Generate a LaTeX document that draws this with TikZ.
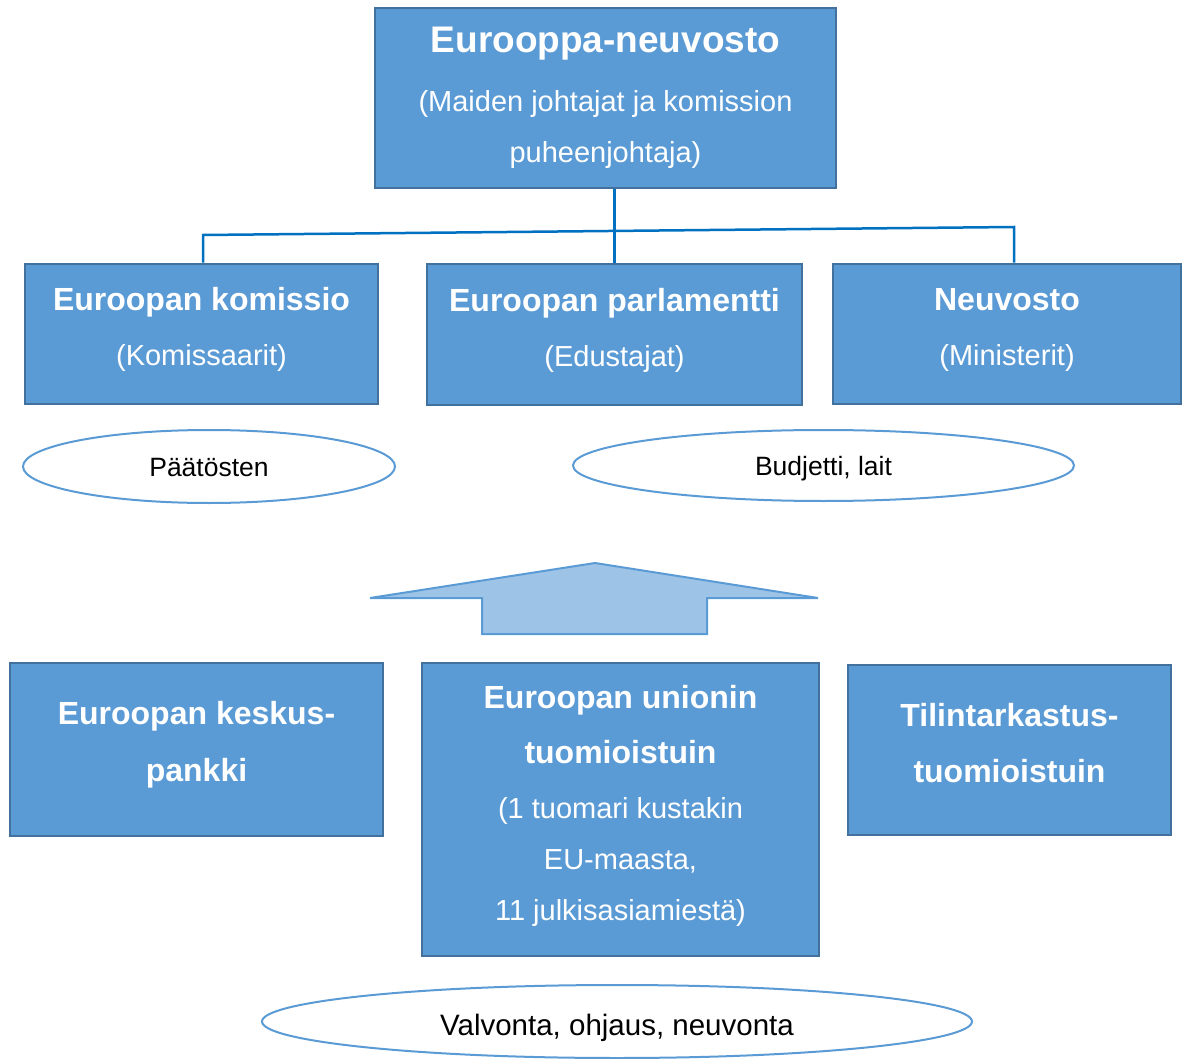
\documentclass[tikz,border=0pt]{standalone}
\usepackage{fontspec}
\setmainfont{Liberation Sans}
\usetikzlibrary{shapes.geometric}

\definecolor{boxblue}{HTML}{5B9BD5}
\definecolor{boxline}{HTML}{41719C}
\definecolor{treeline}{HTML}{0070C0}
\definecolor{arrowfill}{HTML}{9DC3E6}

\begin{document}
\begin{tikzpicture}[x=1pt,y=-1pt]
    \tikzstyle{organ}=[rectangle,draw=boxline,fill=boxblue,line width=2.5pt,
        text=white,align=center,inner sep=0pt,font=\fontsize{29}{51}\selectfont]
    \tikzstyle{task}=[ellipse,draw=boxblue,line width=2pt,fill=white,
        inner sep=0pt,text height=25pt,text depth=6pt,font=\fontsize{26.5}{30}\selectfont]
    \tikzstyle{tree}=[draw=treeline,line width=2.5pt]
    \def\hd#1{{\bfseries\fontsize{32}{51}\selectfont #1}}

    \useasboundingbox (0,0) rectangle (1189,1059);

    % Top level
    \node[organ,minimum width=461pt,minimum height=180pt] (council) at (605.5,98)
        {{\bfseries\fontsize{37}{51}\selectfont Eurooppa-neuvosto}\\[8pt](Maiden johtajat ja komission\\puheenjohtaja)};

    % Middle row
    \node[organ,minimum width=353pt,minimum height=140pt,text depth=15pt] (commission) at (201.5,334)
        {\hd{Euroopan komissio}\\[4pt](Komissaarit)};
    \node[organ,minimum width=375pt,minimum height=141pt,text depth=15pt] (parliament) at (614.5,334.5)
        {\hd{Euroopan parlamentti}\\[4pt](Edustajat)};
    \node[organ,minimum width=348pt,minimum height=140pt,text depth=15pt] (ministers) at (1007,334)
        {\hd{Neuvosto}\\[4pt](Ministerit)};

    \node[task,minimum width=372pt,minimum height=73pt] (decisions) at (209,466.5) {Päätösten};
    \node[task,minimum width=501pt,minimum height=71pt] (budget) at (823.5,465.5) {Budjetti, lait};

    % Bottom row
    \node[organ,minimum width=373pt,minimum height=173pt,text depth=17pt] (bank) at (196.5,749.5)
        {\hd{Euroopan keskus-}\\[6pt]\hd{pankki}};
    \node[organ,minimum width=397pt,minimum height=293pt,text depth=13pt] (court) at (620.5,809.5)
        {\hd{Euroopan unionin}\\[4pt]\hd{tuomioistuin}\\[4pt](1 tuomari kustakin\\EU-maasta,\\11 julkisasiamiestä)};
    \node[organ,minimum width=323pt,minimum height=170pt,text depth=15pt] (auditors) at (1009.5,750)
        {\hd{Tilintarkastus-}\\[5pt]\hd{tuomioistuin}};

    \node[task,minimum width=710pt,minimum height=73pt,text height=34pt,
        font=\fontsize{29.5}{32}\selectfont] (control) at (617,1021.5)
        {Valvonta, ohjaus, neuvonta};

    % Connect the top level with the middle row
    \coordinate (tl) at (203,235);
    \coordinate (tr) at (1014,227);
    \path[tree] (council.south -| parliament.north) -- (parliament.north);
    \path[tree] (commission.north -| tl) -- (tl) -- (tr) -- (ministers.north -| tr);

    % Big arrow pointing up
    \filldraw[fill=arrowfill,draw=boxblue,line width=2pt]
        (595,563) -- (818,598) -- (707,598) -- (707,634) -- (482,634)
        -- (482,598) -- (370,598) -- cycle;

\end{tikzpicture}
\end{document}
